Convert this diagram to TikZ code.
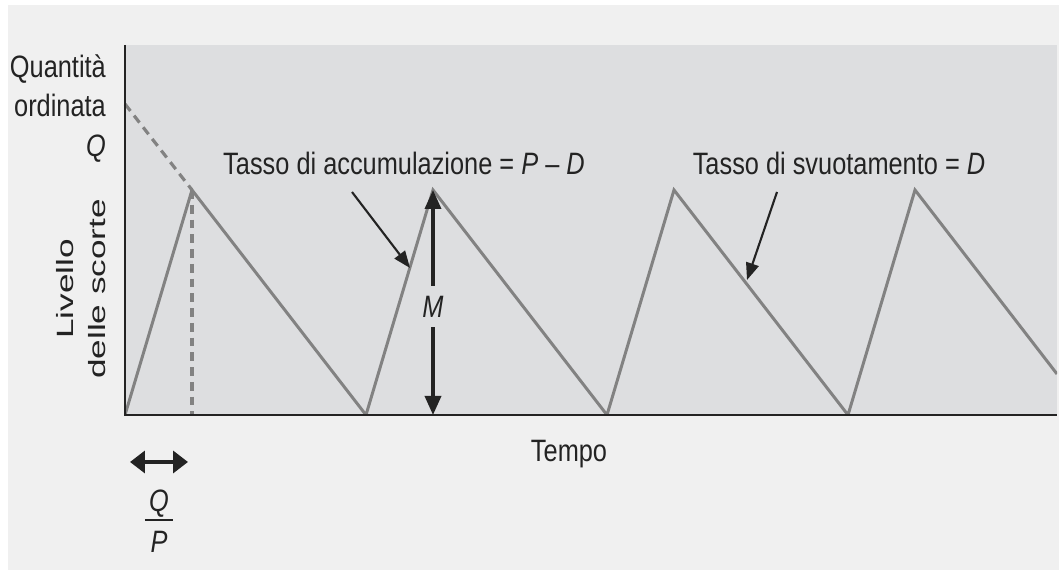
\documentclass[tikz,border=0pt]{standalone}
\usepackage{fontspec}
\setmainfont{Liberation Sans}
\usetikzlibrary{arrows.meta}

\definecolor{panel}{RGB}{240,240,240}
\definecolor{plotbg}{RGB}{221,222,224}
\definecolor{curve}{RGB}{130,130,130}
\definecolor{ink}{RGB}{35,35,35}
\newcommand{\narrowtxt}[1]{\scalebox{0.82}[1]{#1}}
\newcommand{\flattxt}[1]{\scalebox{1}[0.67]{#1}}

\begin{document}
\begin{tikzpicture}[x=0.02cm, y=0.02cm, text=ink,
  font=\fontsize{17.6}{22}\selectfont,
  stock/.style={curve, line width=1.7pt},
  guide/.style={curve, line width=1.8pt, dash pattern=on 5pt off 3.4pt},
  pointer/.style={ink, line width=1.2pt, -{Triangle[length=0.34cm,width=0.26cm]}},
  span/.style={ink, line width=2pt, -{Triangle[length=0.38cm,width=0.32cm]}},
  wide span/.style={ink, line width=2pt, {Triangle[length=0.3cm,width=0.44cm]}-{Triangle[length=0.3cm,width=0.44cm]}}]
\useasboundingbox (-125,-155) rectangle (934,415);
\fill[panel] (-117,-155) rectangle (934,410);
\fill[plotbg] (0,0) rectangle (932,370);

% peaks and valleys of the stock level
\foreach \k in {0,...,3}
{
    \coordinate (pk\k) at (67+241*\k,225);
    \coordinate (lo\k) at (241*\k,0);
}
\coordinate (endpt) at (932,41);
\begin{scope}
\clip (0,0) rectangle (932,370);
\draw[stock] (lo0)--(pk0)--(lo1)--(pk1)--(lo2)--(pk2)--(lo3)--(pk3)--(endpt);
\end{scope}
\draw[guide] (0,311)--(pk0);
\draw[guide] (pk0)--(pk0 |- lo0);

% axes
\draw[ink, line width=1.2pt] (0,370)--(0,0)--(932,0);

% axis labels
\node[anchor=base east] (qtxt) at (-13,337) {\narrowtxt{Quantità}};
\node[anchor=base east] (ordtxt) at (-13,298) {\narrowtxt{ordinata}};
\node[anchor=base east] (qsym) at (-13,258) {\narrowtxt{\textit{Q}}};
\node[rotate=90, align=center, font=\fontsize{20}{18}\selectfont] (livello) at (-44,126)
    {\flattxt{Livello}\\\flattxt{delle scorte}};
\node[anchor=base] (tempo) at (444,-47) {\narrowtxt{Tempo}};

% rates
\node[anchor=base] (acclbl) at (279,240) {\narrowtxt{Tasso di accumulazione = \textit{P} – \textit{D}}};
\node[anchor=base] (svlbl) at (714,240) {\narrowtxt{Tasso di svuotamento = \textit{D}}};
\coordinate (acctail) at (227,223);
\coordinate (acctip) at (285,147);
\coordinate (svtail) at (652,223);
\coordinate (svtip) at (622,135);
\draw[pointer] (acctail)--(acctip);
\draw[pointer] (svtail)--(svtip);

% maximum level
\node[inner xsep=0pt, inner ysep=0.2cm] (mlbl) at (308,108.5) {\narrowtxt{\textit{M}}};
\draw[span] (mlbl)--(pk1);
\draw[span] (mlbl)--(pk1 |- lo0);

% production time Q/P
\coordinate (qpl) at (5,-47);
\coordinate (qpr) at (63,-47);
\draw[wide span] (qpl)--(qpr);
\node[anchor=base] (qnum) at (34,-97) {\narrowtxt{\textit{Q}}};
\node[anchor=base] (pden) at (34,-138) {\narrowtxt{\textit{P}}};
\draw[ink, line width=1.1pt] (20,-105)--(48,-105);
\end{tikzpicture}
\end{document}
